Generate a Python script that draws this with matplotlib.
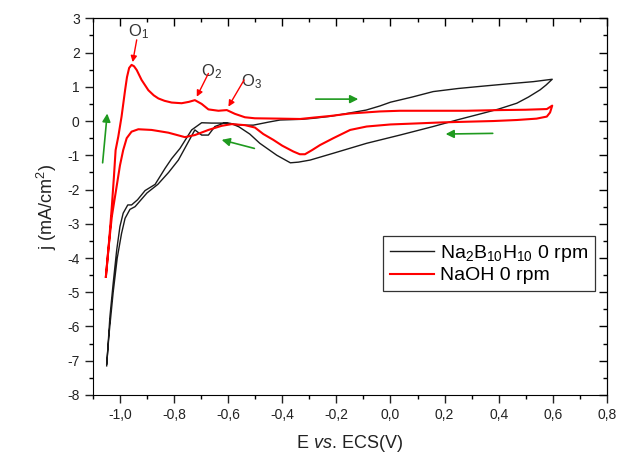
import matplotlib
matplotlib.use("Agg")
import matplotlib.pyplot as plt
import matplotlib.ticker as mticker

plt.rcParams["font.family"] = ["Liberation Sans", "DejaVu Sans"]
plt.rcParams["mathtext.fontset"] = "custom"
plt.rcParams["mathtext.rm"] = "Liberation Sans"
plt.rcParams["mathtext.it"] = "Liberation Sans:italic"
plt.rcParams["axes.unicode_minus"] = False

# Na2B10H10 0 rpm: anodic scan from -1.05 V to 0.6 V, then cathodic back
na2_e = [-1.049, -1.037, -1.025, -1.012, -1.0, -0.988, -0.971, -0.957, -0.935,
         -0.907, -0.87, -0.833, -0.809, -0.778, -0.735, -0.698, -0.661, -0.612,
         -0.55, -0.507, -0.45, -0.408, -0.33, -0.285, -0.22, -0.162, -0.09,
         -0.039, 0.0, 0.08, 0.158, 0.25, 0.343, 0.44, 0.528, 0.598,
         0.575, 0.553, 0.51, 0.467, 0.40, 0.343, 0.25, 0.158, 0.035, -0.088,
         -0.211, -0.297, -0.34, -0.37, -0.42, -0.483, -0.52, -0.56, -0.59,
         -0.612, -0.649, -0.673, -0.698, -0.723, -0.75, -0.784, -0.82, -0.86,
         -0.90, -0.944, -0.963, -0.981, -0.994, -1.01, -1.025, -1.04, -1.049]
na2_j = [-7.15, -5.71, -4.74, -3.77, -3.08, -2.69, -2.45, -2.45, -2.30,
         -2.03, -1.85, -1.38, -1.10, -0.80, -0.26, -0.05, -0.06, -0.06,
         -0.12, -0.12, -0.03, 0.03, 0.05, 0.08, 0.14, 0.22, 0.32,
         0.44, 0.55, 0.70, 0.86, 0.95, 1.02, 1.09, 1.15, 1.22,
         1.05, 0.91, 0.70, 0.52, 0.35, 0.23, 0.04, -0.16, -0.41, -0.65,
         -0.94, -1.14, -1.20, -1.22, -1.00, -0.65, -0.38, -0.17, -0.07,
         -0.05, -0.16, -0.41, -0.41, -0.26, -0.65, -1.14, -1.50, -1.85,
         -2.10, -2.50, -2.58, -2.84, -3.28, -4.00, -5.00, -6.20, -7.10]

# NaOH 0 rpm
naoh_e = [-1.052, -1.04, -1.03, -1.022, -1.016, -1.006, -0.994, -0.981, -0.974,
          -0.966, -0.957, -0.948, -0.938, -0.92, -0.895, -0.875, -0.858, -0.835,
          -0.809, -0.772, -0.745, -0.723, -0.698, -0.673, -0.636, -0.605,
          -0.575, -0.538, -0.501, -0.408,
          -0.334, -0.285, -0.22, -0.149, -0.039, 0.035, 0.15, 0.282, 0.405,
          0.5, 0.578, 0.598,
          0.59, 0.578, 0.54, 0.467, 0.38, 0.282, 0.19, 0.097, 0.0, -0.088,
          -0.149, -0.211, -0.26, -0.29, -0.316, -0.335, -0.359, -0.40, -0.433,
          -0.47, -0.501, -0.538, -0.587, -0.624, -0.673, -0.723, -0.76, -0.821,
          -0.883, -0.932, -0.957, -0.975, -0.988, -1.0, -1.012, -1.03, -1.042,
          -1.052]
naoh_j = [-4.55, -3.5, -2.5, -1.6, -0.85, -0.45, 0.13, 0.90, 1.28,
          1.55, 1.64, 1.60, 1.49, 1.20, 0.90, 0.75, 0.66, 0.59,
          0.54, 0.52, 0.56, 0.61, 0.50, 0.34, 0.30, 0.32,
          0.21, 0.11, 0.08, 0.07,
          0.06, 0.10, 0.15, 0.22, 0.28, 0.30, 0.30, 0.30, 0.32,
          0.33, 0.35, 0.45,
          0.25, 0.13, 0.07, 0.03, 0.0, -0.02, -0.04, -0.07, -0.10, -0.16,
          -0.26, -0.50, -0.70, -0.85, -0.97, -0.97, -0.89, -0.72, -0.55,
          -0.38, -0.19, -0.12, -0.09, -0.14, -0.26, -0.41, -0.47, -0.34,
          -0.26, -0.24, -0.31, -0.50, -0.85, -1.30, -1.90, -2.79, -3.70,
          -4.55]

# peak labels: text position, arrow tail and arrow tip
peak_labels = ["O$_1$", "O$_2$", "O$_3$"]
peak_text = [(-0.93, 2.62), (-0.66, 1.45), (-0.515, 1.16)]
peak_tail = [(-0.938, 2.37), (-0.673, 1.39), (-0.541, 1.20)]
peak_tip = [(-0.953, 1.72), (-0.716, 0.71), (-0.599, 0.42)]

# green scan direction arrows: (tail, head)
scan_tail = [(-1.064, -1.22), (-0.276, 0.64), (-0.503, -0.80), (0.378, -0.36)]
scan_head = [(-1.047, 0.22), (-0.119, 0.64), (-0.624, -0.55), (0.204, -0.38)]

fig = plt.figure(figsize=(6.18, 4.61), dpi=100)
ax = fig.add_axes([0.1503, 0.1432, 0.8317, 0.8171])

ax.plot(na2_e, na2_j, color="#1a1a1a", linewidth=1.0,
        label="Na$_2$B$_{10}$H$_{10}$ 0 rpm")
ax.plot(naoh_e, naoh_j, color="red", linewidth=1.5, label="NaOH 0 rpm")

for lab, txt, tail, tip in zip(peak_labels, peak_text, peak_tail, peak_tip):
    ax.text(txt[0], txt[1], lab, fontsize=12, color="#333333",
            ha="center", va="center")
    ax.annotate("", xy=tip, xytext=tail,
                arrowprops=dict(arrowstyle="-|>", color="red", lw=1.0,
                                mutation_scale=9, shrinkA=0, shrinkB=0))

for tail, head in zip(scan_tail, scan_head):
    ax.annotate("", xy=head, xytext=tail,
                arrowprops=dict(arrowstyle="-|>", color="#1f9a1f", lw=1.2,
                                mutation_scale=12, shrinkA=0, shrinkB=0))

ax.set_xlim(-1.1, 0.8)
ax.set_ylim(-8, 3)
ax.xaxis.set_major_locator(mticker.MultipleLocator(0.2))
ax.xaxis.set_minor_locator(mticker.MultipleLocator(0.1))
ax.yaxis.set_major_locator(mticker.MultipleLocator(1))
ax.yaxis.set_minor_locator(mticker.MultipleLocator(0.5))
ax.xaxis.set_major_formatter(
    mticker.FuncFormatter(lambda v, p: f"{v:.1f}".replace(".", ",").replace("-0,0", "0,0")))
ax.tick_params(which="major", direction="out", length=6, width=1, labelsize=10,
               colors="#222222")
ax.tick_params(which="minor", direction="out", length=3, width=1)

top = ax.secondary_xaxis("top")
top.xaxis.set_major_locator(mticker.MultipleLocator(0.2))
top.xaxis.set_minor_locator(mticker.MultipleLocator(0.1))
top.tick_params(which="major", direction="in", length=6, width=1, labeltop=False)
top.tick_params(which="minor", direction="in", length=3, width=1)
right = ax.secondary_yaxis("right")
right.yaxis.set_major_locator(mticker.MultipleLocator(1))
right.yaxis.set_minor_locator(mticker.MultipleLocator(0.5))
right.tick_params(which="major", direction="in", length=6, width=1, labelright=False)
right.tick_params(which="minor", direction="in", length=3, width=1)

ax.set_xlabel("E $\\it{vs}$. ECS(V)", fontsize=13, color="#222222", labelpad=8)
ax.set_ylabel("j (mA/cm$^2$)", fontsize=13, color="#222222", labelpad=6)

leg = ax.legend(loc="upper left", bbox_to_anchor=(0.564, 0.422), fontsize=14,
                fancybox=False, edgecolor="#333333", framealpha=1,
                borderaxespad=0, handlelength=2.3, handletextpad=0.3,
                borderpad=0.35, labelspacing=0.15)
leg.get_frame().set_linewidth(0.9)

fig.savefig("out.png", dpi=100)
